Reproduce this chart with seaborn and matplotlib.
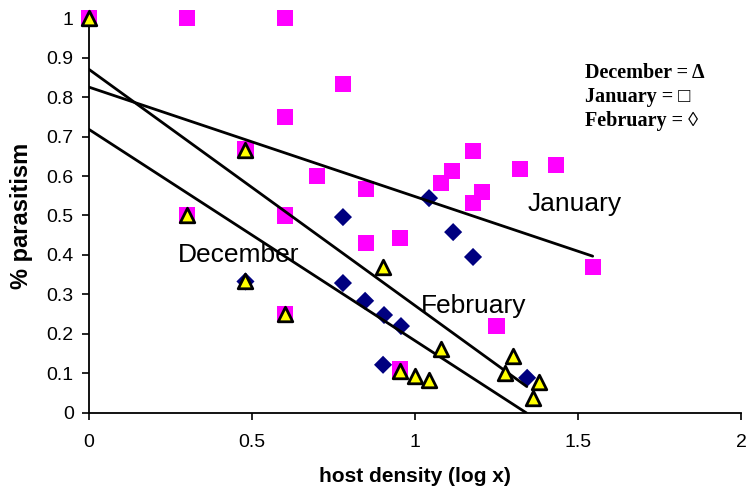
import seaborn as sns
import matplotlib
matplotlib.use("Agg")
import matplotlib.pyplot as plt
import pandas as pd
import numpy as np

# host density (log x) and % parasitism
jan_x = [0.0, 0.30, 0.60, 0.78, 0.60, 0.48, 0.70, 0.85, 1.08, 1.113, 1.177, 1.205, 1.178,
         1.322, 1.432, 1.546, 0.85, 0.954, 0.60, 0.30, 0.60, 1.25, 0.954]
jan_y = [1.0, 1.0, 1.0, 0.833, 0.75, 0.667, 0.60, 0.567, 0.582, 0.613, 0.664, 0.559, 0.532,
         0.618, 0.628, 0.37, 0.43, 0.443, 0.50, 0.50, 0.25, 0.22, 0.11]
feb_x = [1.043, 0.779, 1.117, 1.178, 0.779, 0.847, 0.905, 0.957, 0.902, 1.344, 0.48]
feb_y = [0.544, 0.496, 0.458, 0.395, 0.329, 0.284, 0.248, 0.220, 0.122, 0.089, 0.333]
dec_x = [0.0, 0.48, 0.30, 0.48, 0.60, 0.902, 1.080, 1.301, 1.276, 1.380, 1.362, 0.954, 1.0, 1.043]
dec_y = [1.0, 0.667, 0.50, 0.333, 0.25, 0.370, 0.162, 0.144, 0.101, 0.078, 0.038, 0.106, 0.094, 0.084]

# linear trend lines: intercept, slope, last x
months = ['January', 'February', 'December']
intercepts = [0.825, 0.870, 0.718]
slopes = [-0.277, -0.598, -0.535]
x_ends = [1.545, 1.343, 1.342]

x_ticks = [0, 0.5, 1, 1.5, 2]
x_ticklabels = ['0', '0.5', '1', '1.5', '2']
y_ticks = [0, 0.1, 0.2, 0.3, 0.4, 0.5, 0.6, 0.7, 0.8, 0.9, 1]
y_ticklabels = ['0', '0.1', '0.2', '0.3', '0.4', '0.5', '0.6', '0.7', '0.8', '0.9', '1']

sns.set_style("ticks")
plt.rcParams['font.family'] = ['Liberation Sans', 'DejaVu Sans']
plt.rcParams['text.color'] = 'black'
plt.rcParams['axes.labelcolor'] = 'black'

df = pd.concat([
    pd.DataFrame({'x': jan_x, 'y': jan_y, 'month': 'January'}),
    pd.DataFrame({'x': feb_x, 'y': feb_y, 'month': 'February'}),
    pd.DataFrame({'x': dec_x, 'y': dec_y, 'month': 'December'}),
], ignore_index=True)

fig = plt.figure(figsize=(7.47, 4.95), dpi=100)
ax = fig.add_axes([0.1191, 0.1657, 0.8729, 0.7979])

sns.scatterplot(data=df[df['month'] == 'January'], x='x', y='y', marker='s', s=135,
                color='#FF00FF', edgecolor='none', ax=ax, clip_on=False, zorder=2)
sns.scatterplot(data=df[df['month'] == 'February'], x='x', y='y', marker='D', s=85,
                color='#000080', edgecolor='none', ax=ax, clip_on=False, zorder=3)

for m, b, k, xe in zip(months, intercepts, slopes, x_ends):
    xs = np.array([0, xe])
    ax.plot(xs, b + k * xs, color='black', lw=2, zorder=4)

sns.scatterplot(data=df[df['month'] == 'December'], x='x', y='y', marker='^', s=110,
                color='#FFFF00', edgecolor='black', linewidth=2, ax=ax, clip_on=False, zorder=5)

ax.text(1.49, 0.53, 'January', fontsize=19, ha='center', va='center')
ax.text(0.46, 0.40, 'December', fontsize=19, ha='center', va='center')
ax.text(1.18, 0.27, 'February', fontsize=19, ha='center', va='center')

ax.set_xlim(0, 2)
ax.set_ylim(0, 1)
ax.set_xticks(x_ticks)
ax.set_xticklabels(x_ticklabels, fontsize=14)
ax.set_yticks(y_ticks)
ax.set_yticklabels(y_ticklabels, fontsize=14)
ax.tick_params(direction='out', length=5, width=1.2, colors='black', pad=6)
ax.tick_params(axis='x', pad=10)
sns.despine(ax=ax)
for s in ['left', 'bottom']:
    ax.spines[s].set_linewidth(1.3)
    ax.spines[s].set_color('black')
ax.set_xlabel('host density (log x)', fontsize=15, fontweight='bold', labelpad=12)
ax.set_ylabel('% parasitism', fontsize=17, fontweight='bold', labelpad=10)

serif = ['Liberation Serif', 'DejaVu Serif']
fig.text(0.783, 0.852, 'December = \u0394', family=serif, fontweight='bold', fontsize=14.5, va='center')
fig.text(0.783, 0.804, 'January = \u25a1', family=serif, fontweight='bold', fontsize=14.5, va='center')
fig.text(0.783, 0.756, 'February = \u25ca', family=serif, fontweight='bold', fontsize=14.5, va='center')

plt.savefig('out.png', dpi=100)
